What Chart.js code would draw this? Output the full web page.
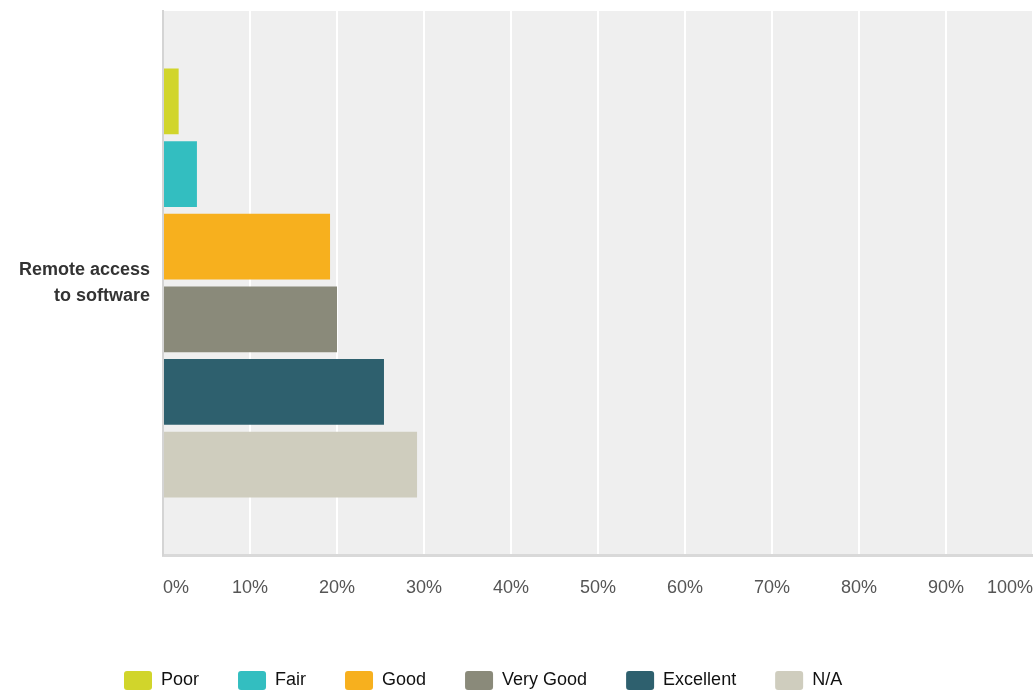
<!DOCTYPE html>
<html>
<head>
<meta charset="utf-8">
<script src="https://cdn.jsdelivr.net/npm/chart.js@4/dist/chart.umd.min.js"></script>
<style>
  html, body { margin: 0; padding: 0; background: #fff; overflow: hidden; }
  #wrap { width: 1033px; height: 692px; }
</style>
</head>
<body>
<div id="wrap"><canvas id="chart" width="1033" height="692"></canvas></div>
<script>
const categories = [["Remote access", "to software"]];
const seriesNames = ["Poor", "Fair", "Good", "Very Good", "Excellent", "N/A"];
const poor = [1.8];
const fair = [3.9];
const good = [19.2];
const veryGood = [20.0];
const excellent = [25.4];
const na = [29.2];
const seriesColors = ["#d1d52b", "#33bec0", "#f7b01e", "#8a8a7a", "#2e606e", "#cfcdbe"];
const xTicks = [0, 10, 20, 30, 40, 50, 60, 70, 80, 90, 100];

const seriesValues = [poor, fair, good, veryGood, excellent, na];

// grey plot background + shift the legend row a bit to the left side
const plotBg = {
  id: "plotBg",
  afterLayout(chart) {
    chart.legend.left = 85;
  },
  beforeDraw(chart) {
    const { ctx, chartArea: a } = chart;
    ctx.save();
    ctx.fillStyle = "#efefef";
    ctx.fillRect(a.left, a.top, a.right - a.left, a.bottom - a.top);
    ctx.restore();
  }
};

new Chart(document.getElementById("chart"), {
  type: "bar",
  data: {
    labels: categories,
    datasets: seriesNames.map((name, i) => ({
      label: name,
      data: seriesValues[i],
      backgroundColor: seriesColors[i],
      borderWidth: 0,
      categoryPercentage: 0.801,
      barPercentage: 0.905
    }))
  },
  options: {
    indexAxis: "y",
    responsive: false,
    animation: false,
    layout: { padding: { left: 0, top: 11, right: 0, bottom: 0 } },
    plugins: {
      tooltip: { enabled: false },
      legend: {
        position: "bottom",
        align: "start",
        maxHeight: 60,
        labels: {
          boxWidth: 28,
          boxHeight: 19,
          padding: 39,
          useBorderRadius: true,
          borderRadius: 3,
          color: "#111",
          font: { family: "'Liberation Sans', Arial, sans-serif", size: 18 }
        }
      }
    },
    scales: {
      x: {
        min: 0,
        max: 100,
        afterBuildTicks(axis) {
          axis.ticks = xTicks.map(v => ({ value: v }));
        },
        afterFit(axis) {
          axis.height = 77;
          axis.paddingLeft = 0;
          axis.paddingRight = 0;
        },
        grid: { color: "#ffffff", lineWidth: 2, drawTicks: false },
        border: { display: true, color: "#d9d9d9", width: 3 },
        ticks: {
          align: "inner",
          padding: 22,
          color: "#555",
          font: { family: "'Liberation Sans', Arial, sans-serif", size: 18 },
          callback: v => v + "%"
        }
      },
      y: {
        afterFit(axis) {
          axis.width = 163;
          axis.paddingTop = 0;
          axis.paddingBottom = 0;
        },
        grid: { display: false, drawTicks: false },
        border: { display: true, color: "#d4d4d4", width: 2 },
        ticks: {
          padding: 13,
          color: "#333",
          font: { family: "'Liberation Sans', Arial, sans-serif", size: 18, weight: "bold", lineHeight: 1.45 }
        }
      }
    }
  },
  plugins: [plotBg]
});
</script>
</body>
</html>
